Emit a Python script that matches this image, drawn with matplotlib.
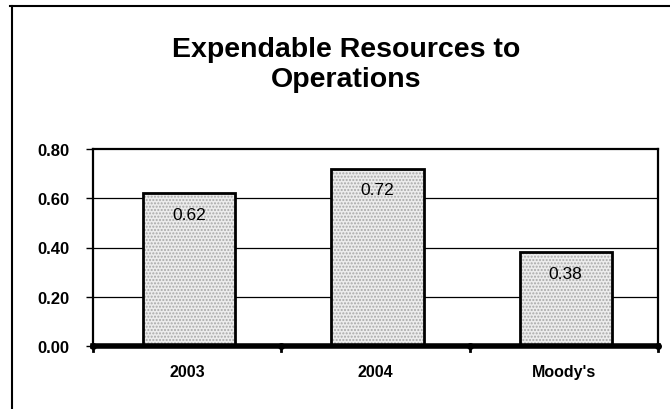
import matplotlib
matplotlib.use("Agg")
import matplotlib.pyplot as plt
from matplotlib.lines import Line2D
import numpy as np

plt.rcParams['font.family'] = ['Liberation Sans', 'DejaVu Sans']

categories = ["2003", "2004", "Moody's"]
values = [0.62, 0.72, 0.38]
value_labels = ["0.62", "0.72", "0.38"]
y_ticks = [0.0, 0.2, 0.4, 0.6, 0.8]
y_tick_labels = ["0.00", "0.20", "0.40", "0.60", "0.80"]
title_lines = ["Expendable Resources to", "Operations"]

fig = plt.figure(figsize=(6.7, 4.1), dpi=100)
ax = fig.add_axes([93/670, 1-347/410, (658-93)/670, (347-150)/410])

x = np.arange(len(categories))

# gridlines
for t in y_ticks[1:-1]:
    ax.axhline(t, color='black', lw=0.9, zorder=1)

# stippled fill, then black outline
ax.bar(x + 0.01, values, width=0.49, color='#ececec', hatch='.....', edgecolor='#a8a8a8', lw=0, zorder=2)
ax.bar(x + 0.01, values, width=0.49, fill=False, edgecolor='black', lw=2, zorder=3)

for xi, v, lab in zip(x, values, value_labels):
    ax.text(xi + 0.01, v - 0.085, lab, ha='center', va='center', fontsize=12.5, zorder=4)

ax.set_xlim(-0.5, 2.5)
ax.set_ylim(0, 0.8)
ax.set_yticks(y_ticks)
ax.set_yticklabels(y_tick_labels, fontsize=12, fontweight='bold')
ax.set_xticks(x)
ax.set_xticklabels(categories, fontsize=11.5, fontweight='bold')
ax.tick_params(axis='x', length=0, pad=13)
ax.tick_params(axis='y', length=5, width=1, pad=12)

for s in ['left', 'top', 'right']:
    ax.spines[s].set_linewidth(1.6)
ax.spines['bottom'].set_linewidth(4)

# category boundary marks under the axis
for b in [-0.5, 0.5, 1.5, 2.5]:
    ax.plot([b], [0], marker='o', markersize=4, color='black', clip_on=False, zorder=5)
    ax.plot([b, b], [0, -0.02], color='black', lw=2, clip_on=False, zorder=5)

# two-line title, baselines
for line, base in zip(title_lines, [57, 87]):
    fig.text(346/670, 1-base/410, line, ha='center', va='baseline',
             fontsize=20.5, fontweight='bold')

# outer frame of the chart area
fig.add_artist(Line2D([12/670, 12/670], [0, 1-7/410], color='black', lw=1.5))
fig.add_artist(Line2D([10/670, 1], [1-7/410, 1-7/410], color='black', lw=1.5))

fig.savefig("out.png", dpi=100)
